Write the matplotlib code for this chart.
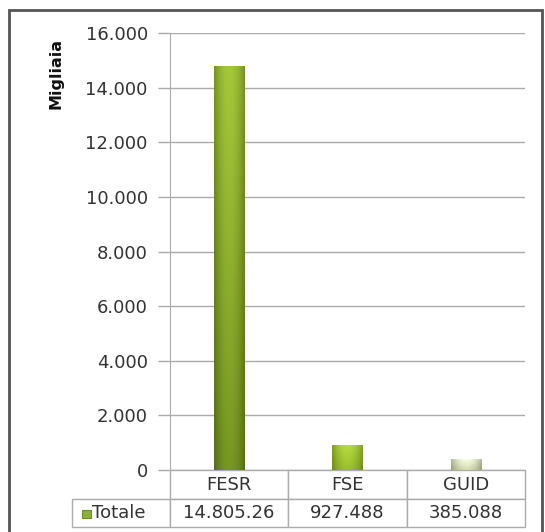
import numpy as np
import matplotlib.pyplot as plt
from matplotlib.colors import to_rgb
from matplotlib.patches import Rectangle

categorie = ['FESR', 'FSE', 'GUID']
valori = [14805.26, 927.488, 385.088]
etichette = ['14.805.26', '927.488', '385.088']
yticks = [0, 2000, 4000, 6000, 8000, 10000, 12000, 14000, 16000]
ytick_labels = ['0', '2.000', '4.000', '6.000', '8.000', '10.000', '12.000', '14.000', '16.000']
serie = 'Totale'

# colore alto / basso di ogni barra
bar_cols = [('#98b935', '#6e8c20'), ('#a9cc3c', '#8fb128'), ('#e6ecd2', '#c3caa2')]

plt.rcParams['font.family'] = ['DejaVu Sans']

fig = plt.figure(figsize=(5.45, 5.32), dpi=100)
W, H = 545, 532
AW, AH = 355, 437
ax = fig.add_axes([170/W, 1-470/H, AW/W, AH/H])

x = np.arange(len(categorie))
bars = ax.bar(x, valori, width=0.254, color='none', edgecolor='none', zorder=3)
sx = np.linspace(-1, 1, 40)
shade = 1.08 - 0.3 * sx**2
for b, (c_top, c_bot) in zip(bars, bar_cols):
    t = np.linspace(0, 1, 60)[:, None, None]
    base = np.array(to_rgb(c_top)) * (1 - t) + np.array(to_rgb(c_bot)) * t
    img = np.clip(base * shade[None, :, None], 0, 1)
    x0, y0 = b.get_x(), b.get_y()
    im = ax.imshow(img, aspect='auto', zorder=3, interpolation='bilinear',
                   extent=[x0, x0 + b.get_width(), y0, y0 + b.get_height()])
    im.set_clip_path(b)

ax.set_xlim(-0.5, 2.5)
ax.set_ylim(0, 16000)
ax.set_yticks(yticks)
ax.set_yticklabels(ytick_labels, fontsize=13, color='#333333')
ax.set_xticks([])
ax.grid(axis='y', color='#ababab', linewidth=1, zorder=0)
ax.tick_params(axis='y', length=9, color='#ababab', width=1, pad=7)
for s in ['top', 'right', 'bottom']:
    ax.spines[s].set_visible(False)
ax.spines['left'].set_color('#ababab')

# tabella dati sotto il grafico
celle = [[''] + categorie, [serie] + etichette]
tab = ax.table(cellText=celle, cellLoc='center',
               bbox=[-98/AW, -57/AH, (AW+98)/AW, 57/AH])
tab.auto_set_font_size(False)
tab.set_fontsize(13)
larghezze = [98, 118.3, 118.3, 118.3]
for (r, c), cell in tab.get_celld().items():
    cell.set_edgecolor('#ababab')
    cell.set_linewidth(1)
    cell.set_width(larghezze[c])
    cell.set_height(29 if r == 0 else 28)
    cell.get_text().set_color('#333333')
tab[0, 0].visible_edges = ''
tab[1, 0].get_text().set_horizontalalignment('left')
tab[1, 0].PAD = 0.2
ax.add_patch(Rectangle((-88/AW, -(518-470)/AH), 9/AW, 8/AH, transform=ax.transAxes,
                       clip_on=False, facecolor='#8db03a', edgecolor='#6f8f22',
                       linewidth=0.8, zorder=5))

fig.text(56/W, 1-73/H, 'Migliaia', rotation=90, ha='center', va='center',
         fontsize=11.5, fontweight='bold', color='#111111')

fig.patches.append(Rectangle((9/W, -0.02), 533/W, 1-10/H+0.02, transform=fig.transFigure,
                             fill=False, edgecolor='#555555', linewidth=2))

fig.savefig('out.png', dpi=100)
